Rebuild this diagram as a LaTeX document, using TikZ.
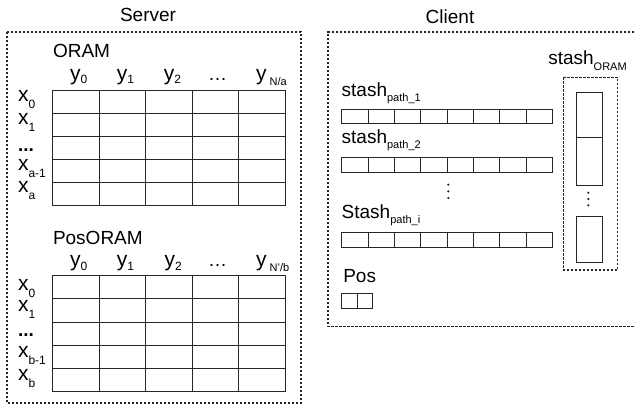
\documentclass[tikz,border=0pt]{standalone}
\usepackage{fontspec}
\setmainfont{Liberation Sans}
\newcommand\sbs[2][5]{\raisebox{-#1pt}{\fontsize{11}{12}\selectfont #2}}
\newcommand\lsub[2][5]{\raisebox{-#1pt}{\fontsize{12}{13}\selectfont #2}}
\begin{document}
\begin{tikzpicture}[x=1pt,y=-1pt,
  every node/.style={inner sep=0pt,outer sep=0pt,font=\fontsize{19}{22}\selectfont},
  lbl/.style={anchor=base west},
  axl/.style={anchor=base west,font=\fontsize{21}{24}\selectfont},
  ttl/.style={anchor=base},
  cellline/.style={draw=black!85,line width=1pt},
  dashbox/.style={draw=black!85,line width=1.4pt,dash pattern=on 2.4pt off 1.6pt},
  vdot/.style={fill=black!85,draw=none}]
\useasboundingbox (0,0) rectangle (634,405);

% ---------- Server ----------
\node[ttl] (servertitle) at (148,21.7) {Server};
\draw[dashbox] (7,32) rectangle (301,403);

% ORAM table
\node[lbl] (oram) at (53,57.3) {ORAM};
\foreach \i/\xx/\t in {0/70.2/{y\lsub[3.5]{0}},1/116.8/{y\lsub[3.5]{1}},2/163.8/{y\lsub[3.5]{2}},4/256.2/{y\hspace{3pt}\sbs[5]{N/a}}}
  \node[axl] (oc\i) at (\xx,80) {\t};
\node[anchor=base] (oc3) at (217.5,80) {…};
\foreach \i/\yy/\t in {0/101.7/{x\lsub[7]{0}},1/124/{x\lsub[7]{1}},3/170.7/{x\lsub[7]{a-1}},4/192.7/{x\lsub[7]{a}}}
  \node[axl] (or\i) at (18,\yy) {\t};
\node[lbl] (or2) at (18,151.7) {\textbf{...}};
\draw[cellline] (52.7,90) rectangle (285,205);
\foreach \k in {1,...,4} \draw[cellline] (52.7+\k*46.46,90) -- (52.7+\k*46.46,205);
\foreach \k in {1,...,4} \draw[cellline] (52.7,90+\k*23) -- (285,90+\k*23);

% PosORAM table
\node[lbl] (posoram) at (53,244) {PosORAM};
\foreach \i/\xx/\t in {0/70.2/{y\lsub[3.5]{0}},1/116.8/{y\lsub[3.5]{1}},2/164.5/{y\lsub[3.5]{2}},4/256.2/{y\hspace{3pt}\sbs[5]{N'/b}}}
  \node[axl] (pc\i) at (\xx,266.7) {\t};
\node[anchor=base] (pc3) at (217.5,266.7) {…};
\foreach \i/\yy/\t in {0/290.7/{x\lsub[7]{0}},1/311.7/{x\lsub[7]{1}},3/357.3/{x\lsub[7]{b-1}},4/380/{x\lsub[7]{b}}}
  \node[axl] (pr\i) at (18,\yy) {\t};
\node[lbl] (pr2) at (18,336.7) {\textbf{...}};
\draw[cellline] (52.7,275.7) rectangle (285,391.7);
\foreach \k in {1,...,4} \draw[cellline] (52.7+\k*46.46,275.7) -- (52.7+\k*46.46,391.7);
\foreach \k in {1,...,4} \draw[cellline] (52.7,275.7+\k*23.2) -- (285,275.7+\k*23.2);

% ---------- Client ----------
\node[ttl] (clienttitle) at (450,23) {Client};
\draw[dashbox] (634,32) -- (328,32) -- (328,326.7) -- (634,326.7);

% stash rows
\node[lbl] (sp1) at (341.7,96.7) {stash\sbs{path\_1}};
\node[lbl] (sp2) at (341.7,143.3) {stash\sbs{path\_2}};
\node[lbl] (spi) at (341.7,218.3) {Stash\sbs{path\_i}};
\foreach \yt/\yb in {109/123.3,157.7/172.3,232.3/247.3}{
  \draw[cellline] (341.7,\yt) rectangle (552.3,\yb);
  \foreach \k in {1,...,7} \draw[cellline] (341.7+\k*26.33,\yt) -- (341.7+\k*26.33,\yb);
}
\foreach \yy in {184.7,191.3,198} \fill[vdot] (448.3,\yy) circle (1.2pt);

% Pos
\node[lbl] (pos) at (343.3,282.7) {Pos};
\draw[cellline] (341.7,293.3) rectangle (372.7,308.3);
\draw[cellline] (357.3,293.3) -- (357.3,308.3);

% stash ORAM
\node[lbl] (sor) at (548.3,64) {stash\sbs[6]{ORAM}};
\draw[dashbox] (563.3,77.3) rectangle (617.7,270);
\draw[cellline] (576,92.3) rectangle (602.7,185);
\draw[cellline] (576,137.7) -- (602.7,137.7);
\draw[cellline] (576,216) rectangle (602.7,262.3);
\foreach \yy in {192.7,199,205.3} \fill[vdot] (588.3,\yy) circle (1.2pt);
\end{tikzpicture}
\end{document}
